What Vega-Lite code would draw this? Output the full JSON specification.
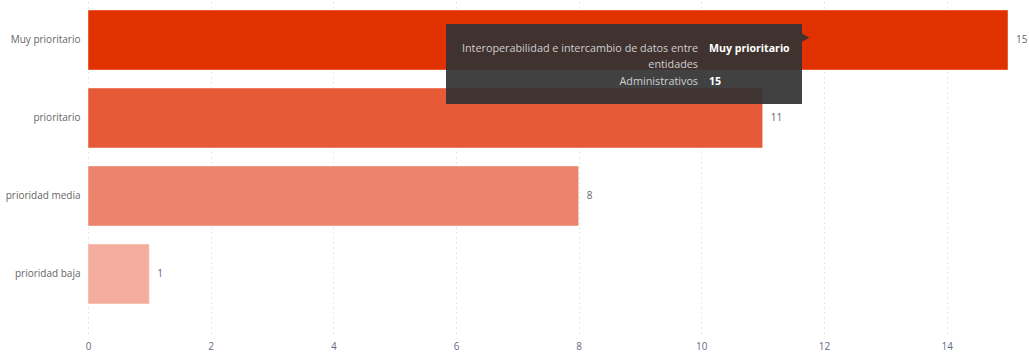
{
  "$schema": "https://vega.github.io/schema/vega-lite/v6.json",
  "width": 920,
  "height": 333,
  "autosize": {"type": "none"},
  "padding": {"left": 88, "top": 0, "right": 21, "bottom": 19},
  "background": "white",
  "config": {
    "view": {"stroke": null},
    "font": "Open Sans",
    "axis": {"labelFont": "Open Sans", "labelFontSize": 10}
  },
  "datasets": {
    "bars": [
      {"prioridad": "Muy prioritario", "n": 15, "color": "#E03100"},
      {"prioridad": "prioritario", "n": 11, "color": "#E65A38"},
      {"prioridad": "prioridad media", "n": 8, "color": "#ED836C"},
      {"prioridad": "prioridad baja", "n": 1, "color": "#F4AD9D"}
    ],
    "tipbox": [{"x1": 5.837, "x2": 11.641, "y1": 0.308, "y2": 1.333}],
    "tiparrow": [{"x": 11.70, "y": 0.483}],
    "tiplabels": [
      {"x": 9.946, "y": 0.632, "t": "Interoperabilidad e intercambio de datos entre"},
      {"x": 9.946, "y": 0.833, "t": "entidades"},
      {"x": 9.946, "y": 1.047, "t": "Administrativos"}
    ],
    "tipvalues": [
      {"x": 10.125, "y": 0.632, "t": "Muy prioritario"},
      {"x": 10.125, "y": 1.047, "t": "15"}
    ]
  },
  "layer": [
    {
      "data": {"name": "bars"},
      "layer": [
        {
          "mark": {"type": "bar", "stroke": "#ffffff", "strokeOpacity": 0.45, "strokeWidth": 1},
          "encoding": {
            "y": {
              "field": "prioridad", "type": "nominal", "sort": null,
              "scale": {"paddingInner": 0.23, "paddingOuter": 0.25, "align": 0.256},
              "axis": {"title": null, "ticks": false, "domain": false, "labelPadding": 8, "labelColor": "#666666", "labelFontSize": 10}
            },
            "x": {
              "field": "n", "type": "quantitative",
              "scale": {"domain": [0, 15], "nice": false},
              "axis": {"title": null, "values": [0, 2, 4, 6, 8, 10, 12, 14], "format": "d", "labelFlush": false, "ticks": false, "domain": false, "labelColor": "#5F6B85", "labelFontSize": 10, "labelPadding": 8, "grid": true, "gridDash": [1, 4], "gridColor": "#CFCFCF", "gridWidth": 1}
            },
            "color": {"field": "color", "type": "nominal", "scale": null, "legend": null}
          }
        },
        {
          "mark": {"type": "text", "align": "left", "dx": 8, "fontSize": 10, "color": "#666666"},
          "encoding": {
            "y": {"field": "prioridad", "type": "nominal", "sort": null},
            "x": {"field": "n", "type": "quantitative"},
            "text": {"field": "n", "type": "quantitative"}
          }
        }
      ]
    },
    {
      "layer": [
        {
          "data": {"name": "tipbox"},
          "mark": {"type": "rect", "color": "#333333", "opacity": 0.93},
          "encoding": {
            "x": {"field": "x1", "type": "quantitative"},
            "x2": {"field": "x2"},
            "y": {"field": "y1", "type": "quantitative", "scale": {"domain": [0, 4.269], "reverse": true}, "axis": null},
            "y2": {"field": "y2"}
          }
        },
        {
          "data": {"name": "tiparrow"},
          "mark": {"type": "point", "shape": "triangle-right", "filled": true, "color": "#333333", "opacity": 0.93, "size": 70},
          "encoding": {
            "x": {"field": "x", "type": "quantitative"},
            "y": {"field": "y", "type": "quantitative", "scale": {"domain": [0, 4.269], "reverse": true}, "axis": null}
          }
        },
        {
          "data": {"name": "tiplabels"},
          "mark": {"type": "text", "align": "right", "baseline": "middle", "fontSize": 10.8, "color": "#D0D0D0"},
          "encoding": {
            "x": {"field": "x", "type": "quantitative"},
            "y": {"field": "y", "type": "quantitative", "scale": {"domain": [0, 4.269], "reverse": true}, "axis": null},
            "text": {"field": "t"}
          }
        },
        {
          "data": {"name": "tipvalues"},
          "mark": {"type": "text", "align": "left", "baseline": "middle", "fontSize": 10.6, "fontWeight": "bold", "color": "#FFFFFF"},
          "encoding": {
            "x": {"field": "x", "type": "quantitative"},
            "y": {"field": "y", "type": "quantitative", "scale": {"domain": [0, 4.269], "reverse": true}, "axis": null},
            "text": {"field": "t"}
          }
        }
      ]
    }
  ],
  "resolve": {"scale": {"y": "independent"}}
}
